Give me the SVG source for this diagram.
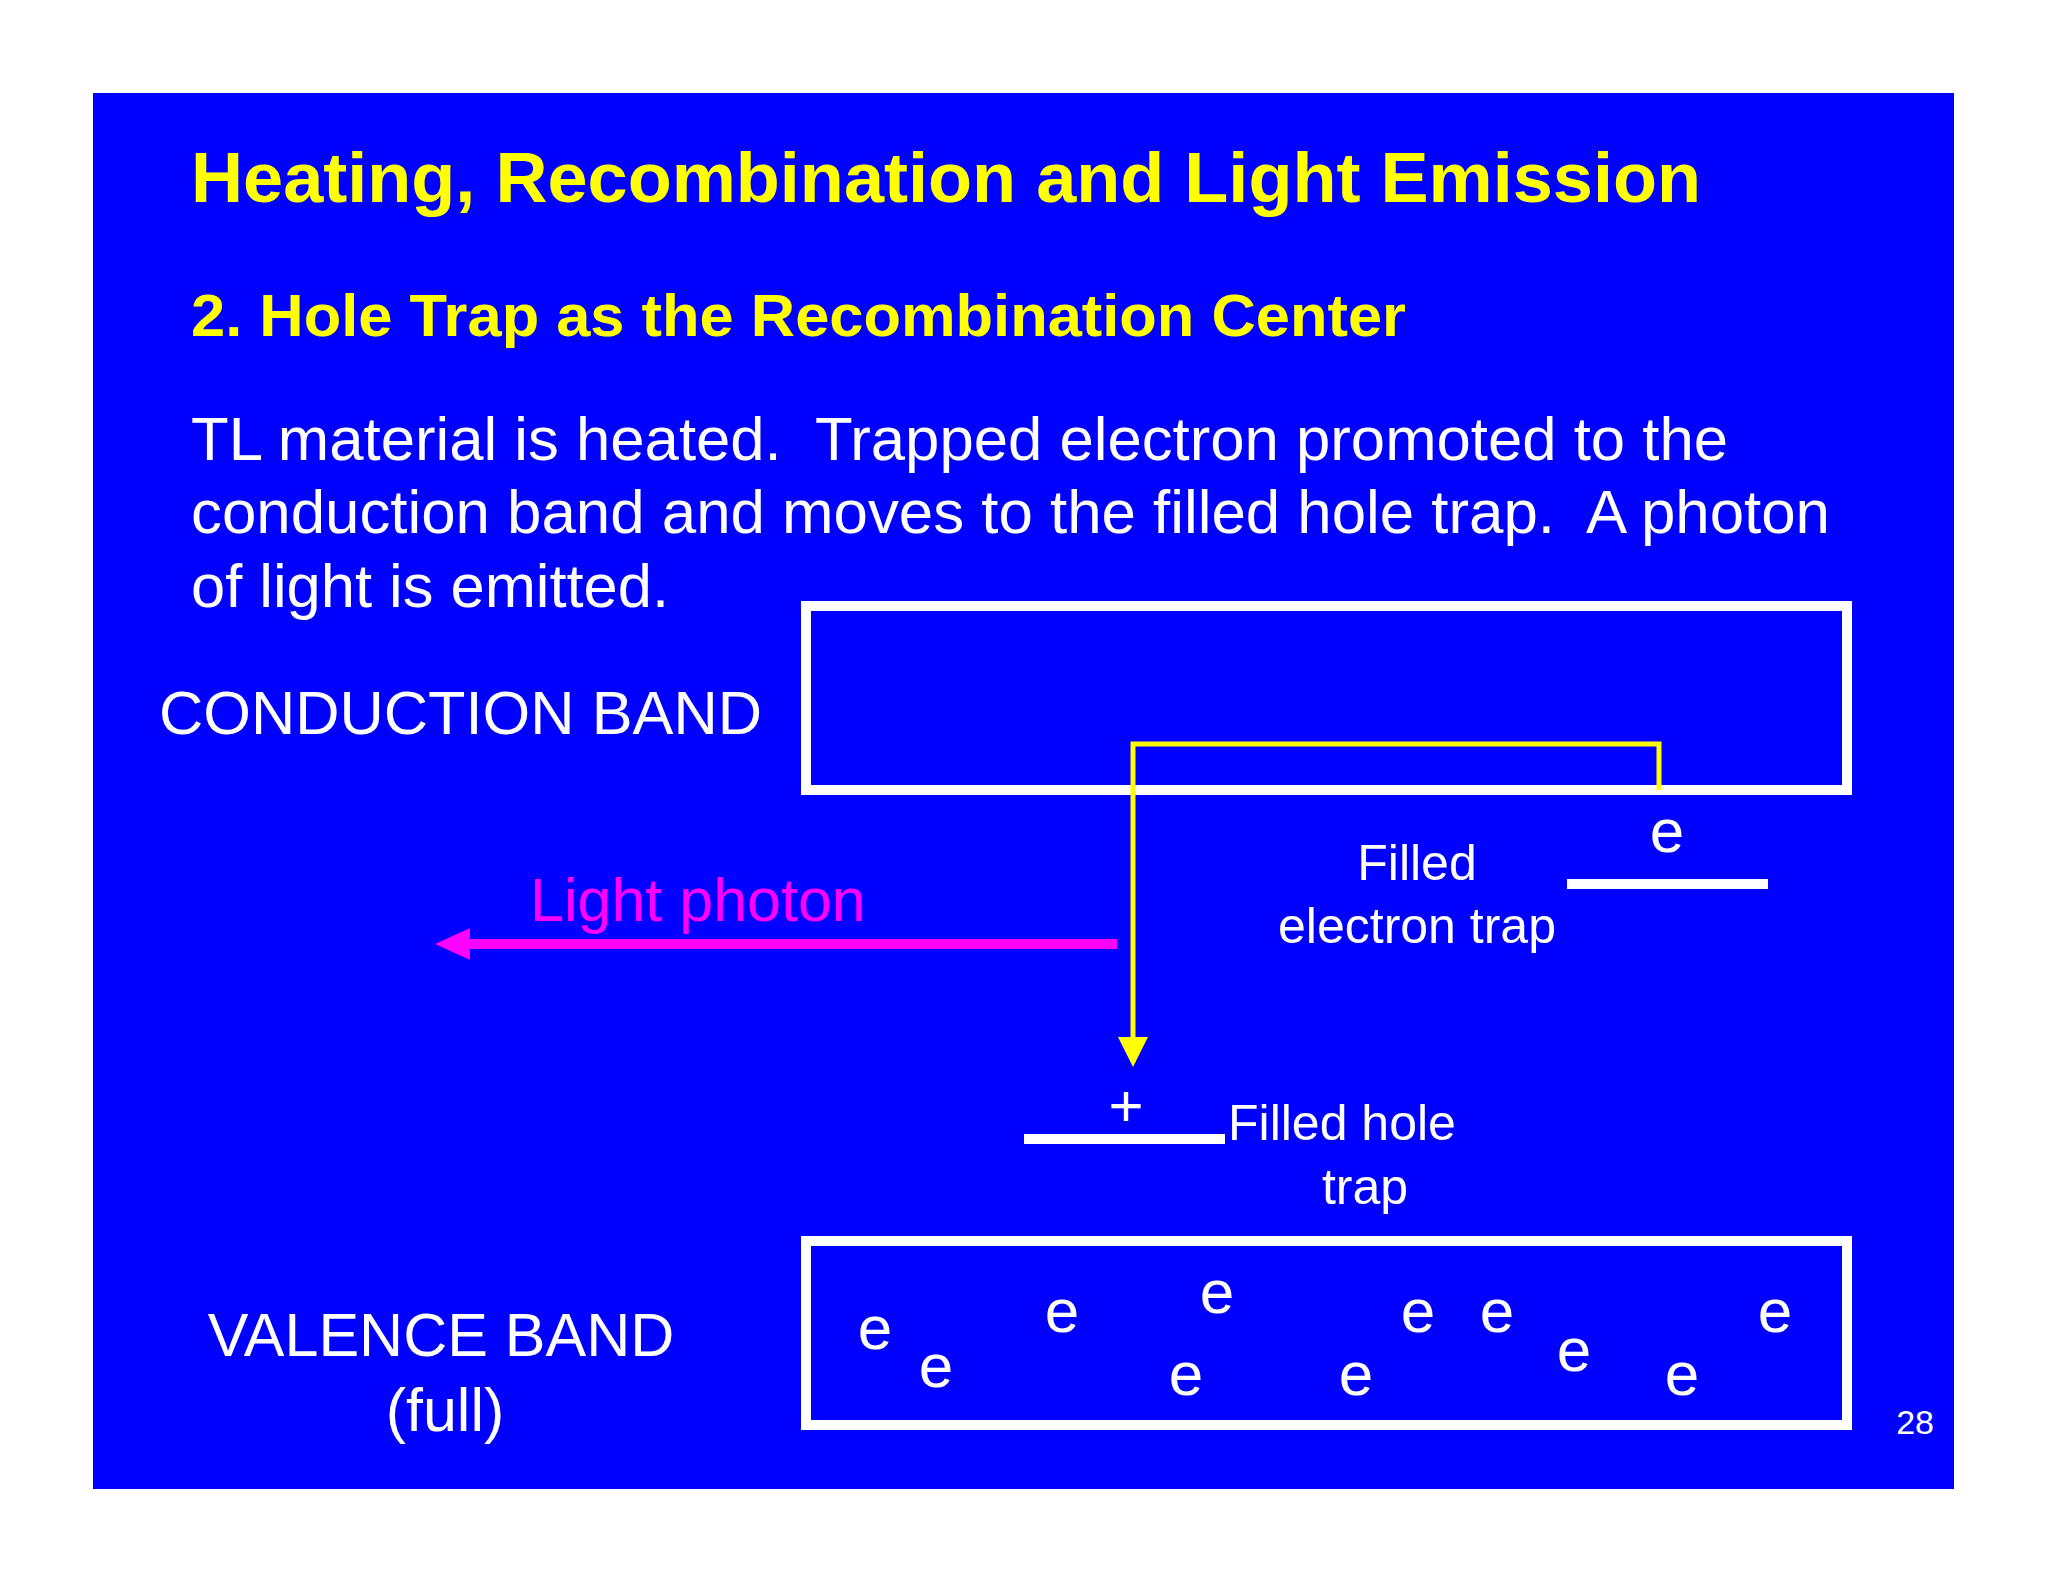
<svg xmlns="http://www.w3.org/2000/svg" width="2048" height="1582" viewBox="0 0 2048 1582">
<style>
text{font-family:"Liberation Sans",Arial,sans-serif;fill:#fff}
.y{fill:#ff0;font-weight:bold}
.w{stroke:#fff;stroke-width:10;fill:none}
.e{font-size:62px;text-anchor:middle}
.m{text-anchor:middle}
</style>
<defs>
<marker id="ya" markerWidth="6" markerHeight="6" refX="5" refY="3" orient="auto" markerUnits="strokeWidth"><path d="M0,0L6,3L0,6z" fill="#ff0"/></marker>
</defs>
<rect width="2048" height="1582" fill="#fff"/>
<rect x="93" y="93" width="1861" height="1396" fill="#0000ff"/>
<g id="title"><text class="y" x="191" y="202" font-size="71" textLength="1510" lengthAdjust="spacingAndGlyphs">Heating, Recombination and Light Emission</text>
<text class="y" x="191" y="336" font-size="60" textLength="1215" lengthAdjust="spacingAndGlyphs">2. Hole Trap as the Recombination Center</text>
<text x="191" y="460" font-size="61" xml:space="preserve" textLength="1537" lengthAdjust="spacingAndGlyphs">TL material is heated.  Trapped electron promoted to the</text>
<text x="191" y="533" font-size="61" xml:space="preserve" textLength="1639" lengthAdjust="spacingAndGlyphs">conduction band and moves to the filled hole trap.  A photon</text>
<text x="191" y="607" font-size="61" textLength="478" lengthAdjust="spacingAndGlyphs">of light is emitted.</text></g>
<g id="conduction"><rect class="w" x="806" y="606" width="1041" height="184"/>
<text x="159" y="734" font-size="61" textLength="603" lengthAdjust="spacingAndGlyphs">CONDUCTION BAND</text></g>
<g id="etrap"><line class="w" x1="1567" y1="884" x2="1768" y2="884"/>
<text class="e" x="1667" y="852">e</text>
<text class="m" x="1417" y="880" font-size="50">Filled</text>
<text class="m" x="1417" y="943" font-size="50">electron trap</text></g>
<g id="htrap"><line class="w" x1="1024" y1="1139" x2="1225" y2="1139"/>
<text class="m" x="1126" y="1126" font-size="60">+</text>
<text x="1228" y="1140" font-size="50">Filled hole</text>
<text class="m" x="1365" y="1204" font-size="50">trap</text></g>
<g id="valence"><rect class="w" x="806" y="1241" width="1041" height="184"/>
<text class="m" x="441" y="1356" font-size="61">VALENCE BAND</text>
<text class="m" x="445" y="1431" font-size="61">(full)</text>
<text class="e" x="875" y="1349">e</text><text class="e" x="936" y="1387">e</text><text class="e" x="1062" y="1332">e</text><text class="e" x="1217" y="1313">e</text><text class="e" x="1186" y="1395">e</text><text class="e" x="1356" y="1395">e</text><text class="e" x="1418" y="1332">e</text><text class="e" x="1497" y="1332">e</text><text class="e" x="1574" y="1371">e</text><text class="e" x="1682" y="1395">e</text><text class="e" x="1775" y="1332">e</text></g>
<g id="photon"><text x="530" y="921" font-size="61" style="fill:#ff00ff">Light photon</text></g>
<g id="connectors">
<path d="M1659,790V744H1133V1062" fill="none" stroke="#ff0" stroke-width="5" marker-end="url(#ya)"/>
<line x1="1117" y1="944" x2="465" y2="944" stroke="#ff00ff" stroke-width="10"/>
<path d="M435,944L470,928V960z" fill="#ff00ff"/>
</g>
<text x="1934" y="1434" font-size="34" text-anchor="end">28</text>
</svg>
